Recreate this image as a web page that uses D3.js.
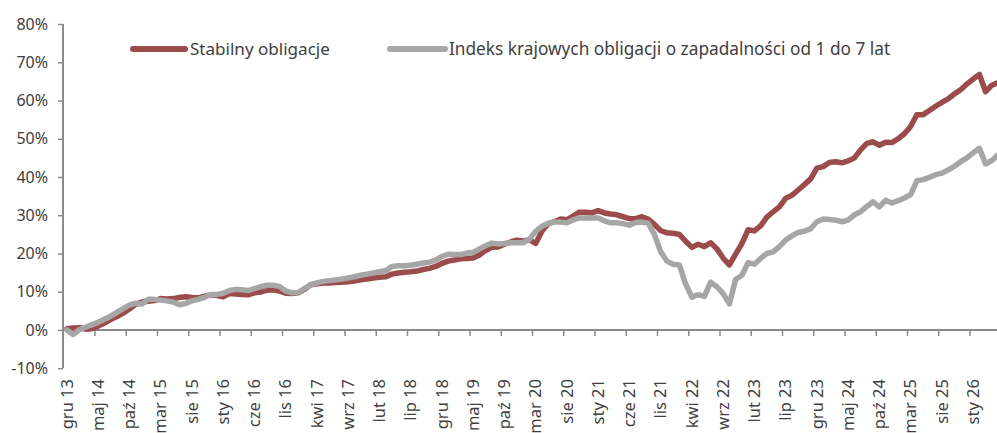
<!DOCTYPE html>
<html>
<head>
<meta charset="utf-8">
<script src="https://cdn.jsdelivr.net/npm/d3@7"></script>
<style>
  html, body { margin: 0; padding: 0; background: #fff; }
  svg { display: block; }
  text { font-family: "Noto Sans", "Open Sans", sans-serif; fill: #404040; }
</style>
</head>
<body>
<svg id="chart" width="997" height="433"></svg>
<script>
// ---- data ----
const monthNames = ["sty","lut","mar","kwi","maj","cze","lip","sie","wrz","paź","lis","gru"];
const startYear = 2013, startMonth = 11; // gru 13
const categoryCount = 150;
const categories = d3.range(categoryCount).map(i => {
  const m = (startMonth + i) % 12;
  const y = startYear + Math.floor((startMonth + i) / 12);
  return monthNames[m] + " " + String(y % 100).padStart(2, "0");
});
const tickLabels = categories.filter((c, i) => i % 5 === 0);

const seriesNames = ["Stabilny obligacje", "Indeks krajowych obligacji o zapadalności od 1 do 7 lat"];

const stabilny = [
  0.3,0.5,0.6,0.2,0.3,1.0,1.8,2.7,3.5,4.4,
  5.5,6.7,7.3,7.5,7.7,8.2,8.1,8.2,8.5,8.7,
  8.5,8.4,8.8,9.2,9.0,8.7,9.5,9.4,9.3,9.2,
  9.7,9.9,10.4,10.5,10.2,9.6,9.5,9.7,10.6,11.8,
  12.1,12.3,12.3,12.4,12.5,12.6,12.8,13.1,13.3,13.6,
  13.8,13.9,14.6,14.9,15.1,15.2,15.4,15.8,16.1,16.6,
  17.4,18.0,18.3,18.6,18.7,18.8,19.6,20.8,21.6,21.7,
  22.4,23.0,23.5,23.2,23.6,22.6,25.8,27.8,28.3,29.0,
  28.8,29.8,30.8,30.8,30.6,31.2,30.6,30.3,30.1,29.6,
  29.1,29.1,29.6,29.0,27.6,26.0,25.4,25.3,25.0,23.2,
  21.6,22.4,21.8,22.8,21.2,18.8,17.0,19.8,22.6,26.2,
  25.9,27.2,29.5,30.9,32.2,34.4,35.2,36.6,38.0,39.5,
  42.3,42.7,43.8,44.0,43.7,44.2,45.0,47.1,48.8,49.2,
  48.3,49.1,49.0,50.0,51.3,53.2,56.3,56.3,57.4,58.5,
  59.5,60.4,61.7,62.8,64.3,65.6,66.8,62.3,64.0,64.7
];
const indeks = [
  0.0,-1.2,0.1,0.7,1.4,2.0,2.8,3.6,4.6,5.6,
  6.5,7.0,6.8,8.0,8.0,7.8,7.6,7.3,6.6,6.9,
  7.6,8.0,8.5,9.3,9.3,9.6,10.3,10.6,10.5,10.3,
  10.8,11.3,11.7,11.7,11.4,10.2,9.7,9.8,10.8,11.8,
  12.3,12.7,12.9,13.1,13.3,13.6,13.9,14.3,14.6,14.9,
  15.2,15.5,16.6,16.8,16.8,16.9,17.2,17.5,17.7,18.3,
  19.2,19.8,19.7,19.7,20.1,20.3,21.2,22.0,22.7,22.5,
  22.6,22.8,22.8,22.8,23.7,25.8,27.1,27.9,28.2,28.2,
  28.0,28.8,29.3,29.3,29.3,29.3,28.5,28.0,28.0,27.8,
  27.4,28.1,28.2,27.9,25.0,20.5,18.0,17.2,17.0,12.0,
  8.6,9.2,8.8,12.5,11.3,9.5,6.8,13.2,14.3,17.6,
  17.2,18.7,20.0,20.4,21.8,23.5,24.6,25.5,25.8,26.5,
  28.3,29.0,28.9,28.7,28.3,28.7,30.1,30.9,32.3,33.5,
  32.2,33.9,33.2,33.8,34.5,35.4,39.0,39.3,39.9,40.6,
  41.0,41.8,42.8,44.0,45.0,46.3,47.5,43.4,44.3,45.8
];
const yTicks = [-10, 0, 10, 20, 30, 40, 50, 60, 70, 80];

// ---- styles ----
const colors = ["#9c4b4b", "#a6a6a6"];
const axisColor = "#8a8a8a";

const svg = d3.select("#chart");

const x = d3.scaleBand().domain(categories).range([63.75, 1001.25]).padding(0);
const xc = c => x(c) + x.bandwidth() / 2;
const y = d3.scaleLinear().domain([-10, 80]).range([368.2, 24]);

// y axis
const gy = svg.append("g").attr("transform", "translate(63,0)")
  .call(d3.axisLeft(y).tickValues(yTicks).tickFormat(d => d + "%").tickSize(5).tickPadding(10));
gy.select(".domain").attr("stroke", axisColor).attr("stroke-width", 2).attr("d", `M0,${y(80)}V${y(-10)}`);
gy.selectAll(".tick line").attr("stroke", axisColor).attr("stroke-width", 1.5);
gy.selectAll(".tick text").style("font-size", "16px").attr("fill", "#404040").style("font-family", "Noto Sans");

// x axis at 0%
const gx = svg.append("g").attr("transform", `translate(0,${y(0)})`);
gx.append("line").attr("x1", 63).attr("x2", 997).attr("stroke", axisColor).attr("stroke-width", 2);
gx.selectAll("line.tk").data(tickLabels.slice(1)).join("line")
  .attr("class", "tk")
  .attr("x1", d => x(d)).attr("x2", d => x(d))
  .attr("y1", 0).attr("y2", 6)
  .attr("stroke", axisColor).attr("stroke-width", 1.5);

// x labels
svg.append("g").selectAll("text").data(tickLabels).join("text")
  .attr("transform", d => `translate(${xc(d)},379) rotate(-90)`)
  .attr("text-anchor", "end")
  .attr("dy", "0.35em")
  .style("font-size", "16.5px")
  .text(d => d);

// lines
const line = d3.line().x((d, i) => xc(categories[i])).y(d => y(d));
[stabilny, indeks].forEach((s, k) => {
  svg.append("path").datum(s)
    .attr("fill", "none")
    .attr("stroke", colors[k])
    .attr("stroke-width", 5.5)
    .attr("stroke-linejoin", "round")
    .attr("stroke-linecap", "round")
    .attr("d", line);
});

// legend
const legendItems = [
  { x1: 133, x2: 185, tx: 190, targetW: 140 },
  { x1: 390, x2: 445, tx: 449, targetW: 441 }
];
const lg = svg.append("g");
legendItems.forEach((it, k) => {
  lg.append("line").attr("x1", it.x1).attr("x2", it.x2).attr("y1", 49).attr("y2", 49)
    .attr("stroke", colors[k]).attr("stroke-width", 6).attr("stroke-linecap", "round");
  const t = lg.append("text").attr("x", it.tx).attr("y", 49).attr("dy", "0.35em")
    .style("font-size", "17px").text(seriesNames[k]);
  const w = t.node().getComputedTextLength();
  t.style("font-size", (17 * it.targetW / w).toFixed(2) + "px");
});
</script>
</body>
</html>
